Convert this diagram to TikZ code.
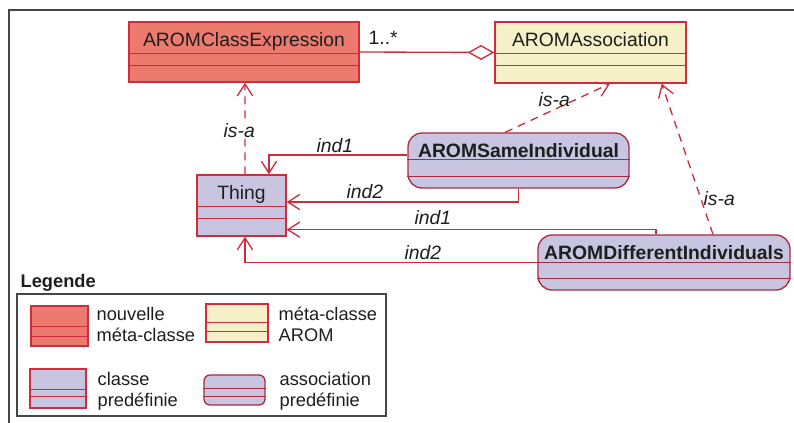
\documentclass[tikz,border=0pt]{standalone}
\usepackage{fontspec}
\setmainfont{Liberation Sans}
\usetikzlibrary{arrows.meta,calc}

\definecolor{umlRed}{RGB}{208,44,60}
\definecolor{umlMaroon}{RGB}{172,42,64}
\definecolor{metaFill}{RGB}{237,122,110}
\definecolor{aromFill}{RGB}{246,240,200}
\definecolor{predFill}{RGB}{200,197,225}
\definecolor{inkGray}{RGB}{30,30,30}
\definecolor{frameGray}{RGB}{70,70,70}

\newcommand{\diagfont}{\fontsize{14.5pt}{15.75pt}\selectfont}
\newcommand{\legfont}{\fontsize{13.7pt}{15.75pt}\selectfont}

\tikzset{every picture/.style={line width=1pt}}

\begin{document}
\begin{tikzpicture}[x=0.75pt,y=0.75pt,yscale=-1,xscale=1,
  txt/.style={font=\diagfont, text=inkGray, inner sep=0.75pt},
  legtxt/.style={txt, font=\legfont, anchor=base west, align=left},
  lbl/.style={txt, font=\diagfont\itshape, anchor=base west},
  umlbox/.style={txt, draw=umlRed, inner xsep=0pt, inner ysep=0pt, text height=18.75pt},
  metabox/.style={umlbox, fill=metaFill},
  arombox/.style={umlbox, fill=aromFill},
  predbox/.style={umlbox, fill=predFill},
  assocbox/.style={umlbox, font=\diagfont\bfseries, fill=predFill, draw=umlMaroon, rounded corners=10.5pt},
  link/.style={draw=umlRed, -{Straight Barb[length=9pt,width=11.5pt]}},
  isa/.style={link, dash pattern=on 6pt off 4.5pt},
]
\useasboundingbox (0,0) rectangle (794,423);

%Frame
\draw [frameGray]  (9,423) -- (9,10) -- (794,10) ;

%Classes
\node [metabox, minimum width=172.5pt, minimum height=45pt, text depth=26.25pt] (ce) at (244,52) {AROMClassExpression};
\node [arombox, minimum width=143.25pt, minimum height=45.75pt, text depth=27pt] (assoc) at (590.5,52.5) {AROMAssociation};
\node [predbox, minimum width=66.75pt, minimum height=45.75pt, text depth=27pt] (thing) at (241.5,205.5) {Thing};
\node [assocbox, minimum width=165.75pt, minimum height=41.25pt, text depth=22.5pt] (same) at (518.5,160.5) {AROMSameIndividual};
\node [assocbox, minimum width=189pt, minimum height=41.25pt, text depth=22.5pt] (diff) at (664,262.5) {AROMDifferentIndividuals};

%Legend boxes
\node [metabox, minimum width=42.75pt, minimum height=30pt] (legmeta) at (59.5,326) {};
\node [arombox, minimum width=46.5pt, minimum height=28.5pt] (legarom) at (237,323) {};
\node [predbox, minimum width=42pt, minimum height=29.25pt] (legpred) at (58,388.5) {};
\node [assocbox, rounded corners=4.5pt, minimum width=45.75pt, minimum height=22.5pt] (legassoc) at (234.5,390) {};

%Compartment lines
\foreach \n/\a/\b/\c in {ce/32/44/umlRed, assoc/32/44/umlRed, thing/32/44/umlRed, same/27.5/44/umlMaroon, diff/28/44/umlMaroon,
    legmeta/21/31/umlRed, legarom/19/28/umlRed, legpred/21/28/umlRed, legassoc/14/22/umlMaroon}
  \draw [\c]  ($(\n.north west)+(0,\a)$) -- ($(\n.north east)+(0,\a)$) ($(\n.north west)+(0,\b)$) -- ($(\n.north east)+(0,\b)$) ;

%Aggregation
\draw [umlRed, -{Diamond[fill=white,length=20pt,width=11.25pt]}]  (ce.east) -- (assoc.west) ;
%is-a links
\draw [isa]  ([xshift=2.6pt]thing.north) -- ([xshift=0.75pt]ce.south) ;
\draw [isa]  ([xshift=-10pt]same.north) -- ([xshift=14.6pt]assoc.south) ;
\draw [isa]  ([xshift=36.75pt]diff.north) -- ([xshift=-18.75pt]assoc.south east) ;
%ind links
\draw [link]  ([yshift=-4.1pt]same.west) -| ([xshift=20.6pt]thing.north) ;
\draw [link]  (same.south) |- ([yshift=-2.6pt]thing.east) ;
\draw [link]  ([xshift=-6pt]diff.north) |- ([yshift=-5.25pt]thing.south east) ;
\draw [link]  (diff.west) -| ([xshift=2.6pt]thing.south) ;

% Text Node
\draw (367,45) node [txt, anchor=base west] (mult) {1..*};
% Text Node
\draw (222,138) node [lbl, fill=white] (isaone) {is-a};
% Text Node
\draw (537,107) node [lbl] (isatwo) {is-a};
% Text Node
\draw (702,206) node [lbl] (isathree) {is-a};
% Text Node
\draw (315,153) node [lbl] (sameone) {ind1};
% Text Node
\draw (345,199) node [lbl] (sametwo) {ind2};
% Text Node
\draw (413,225) node [lbl] (diffone) {ind1};
% Text Node
\draw (403,260) node [lbl] (difftwo) {ind2};

%Legend
\draw [frameGray]  (17,294) rectangle (386,416) ;
% Text Node
\draw (19,288) node [txt, font=\legfont\bfseries, anchor=base west] (legtitle) {Legende};
% Text Node
\draw (95,342) node [legtxt] (legmetatxt) {nouvelle\\méta-classe};
% Text Node
\draw (277,342) node [legtxt] (legaromtxt) {méta-classe\\AROM};
% Text Node
\draw (96,407) node [legtxt] (legpredtxt) {classe\\predéfinie};
% Text Node
\draw (278,407) node [legtxt] (legassoctxt) {association\\predéfinie};

\end{tikzpicture}
\end{document}
